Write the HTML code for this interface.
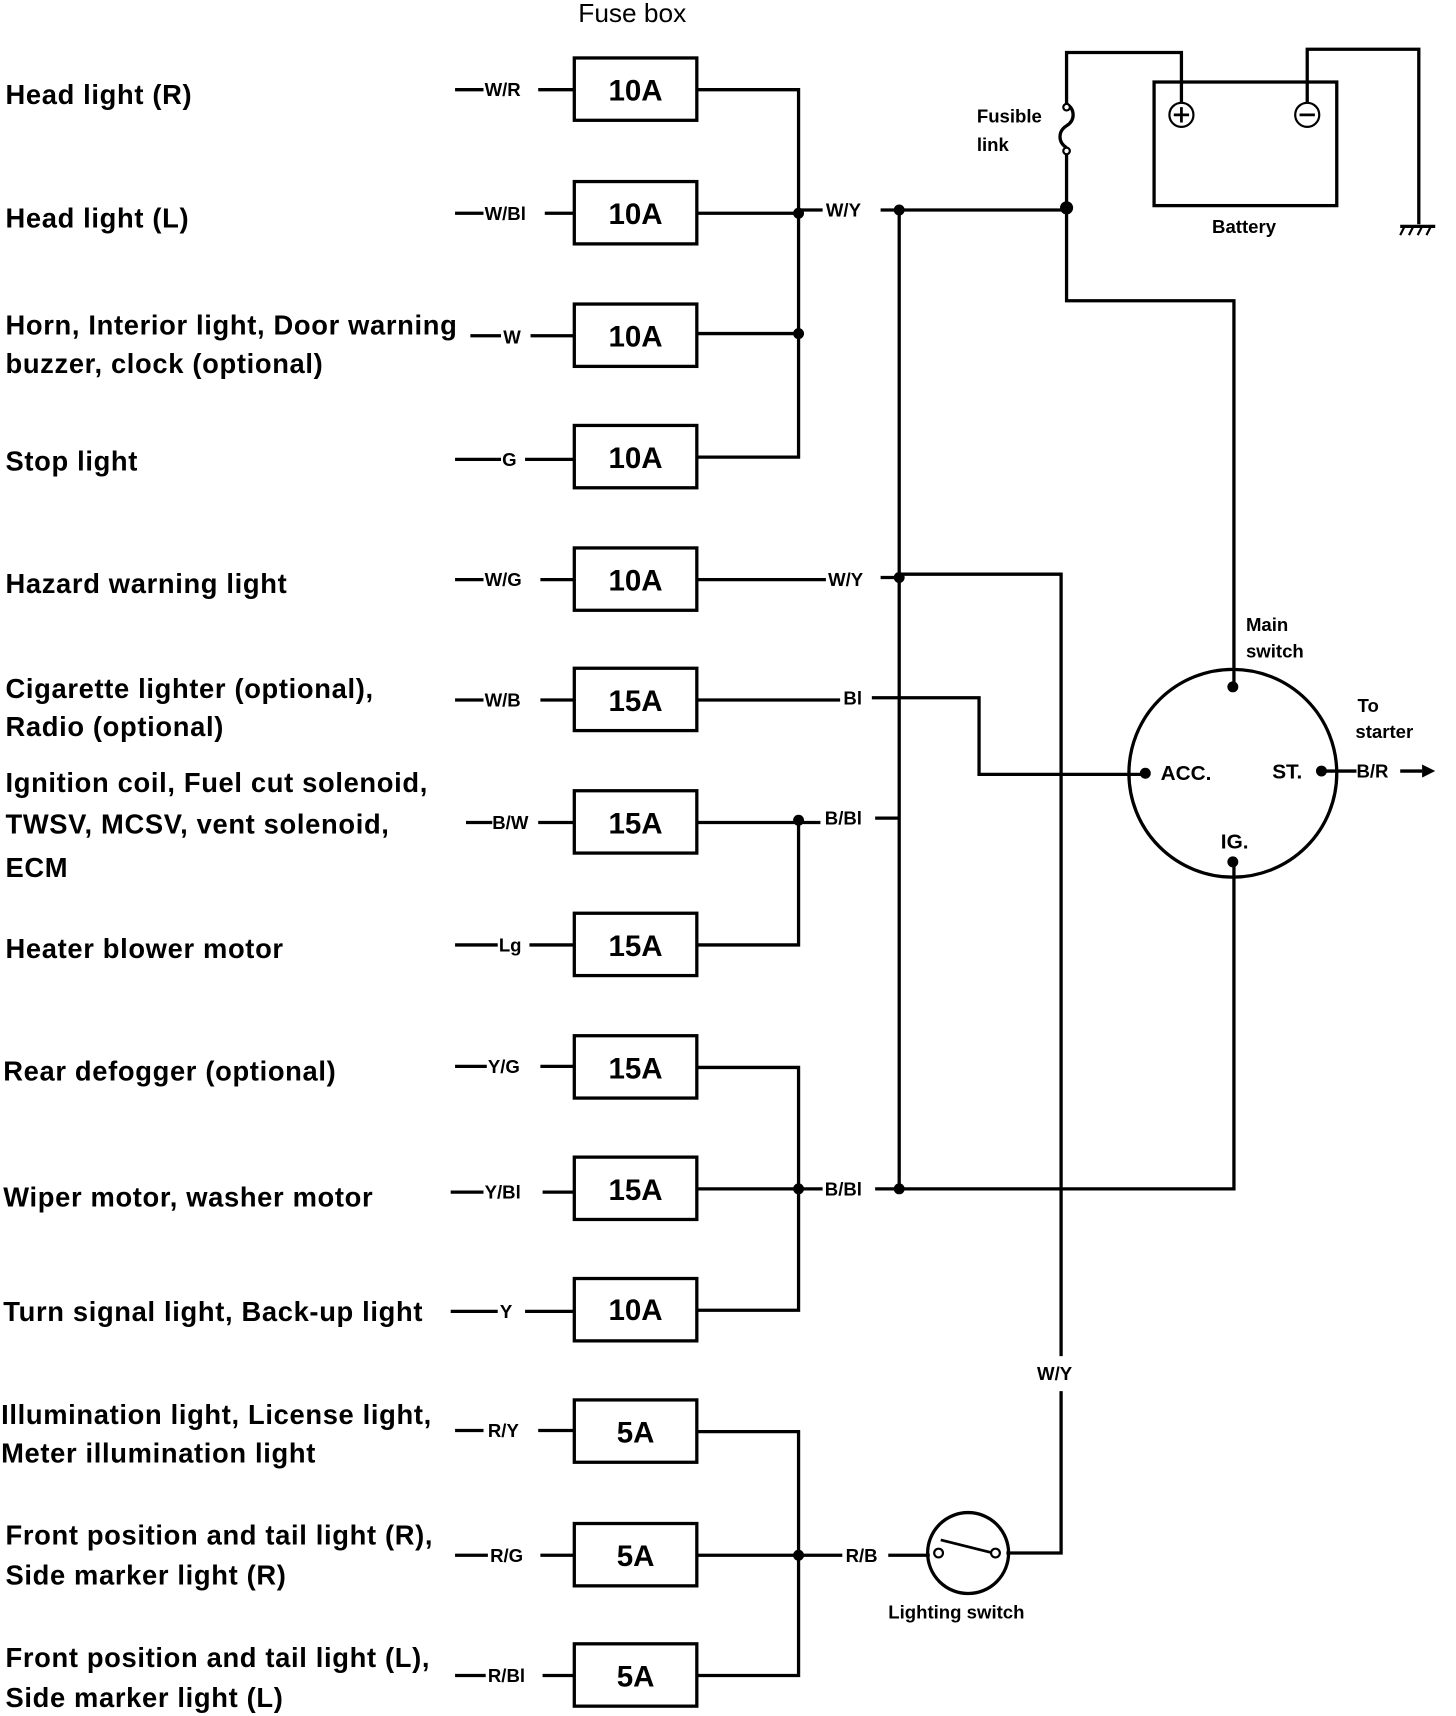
<!DOCTYPE html>
<html><head><meta charset="utf-8"><style>
html,body{margin:0;padding:0;background:#fff;}
svg{display:block;}
text{font-family:"Liberation Sans",sans-serif;font-weight:bold;fill:#000;}
.l{font-size:25px;letter-spacing:0.6px;}
.w{font-size:17px;}
.f{font-size:27px;font-weight:normal;}
.s{font-size:17px;}
</style></head><body>
<svg width="1456" height="1716" viewBox="0 0 1331 1569" preserveAspectRatio="none" xmlns="http://www.w3.org/2000/svg">
<g stroke="#000" stroke-width="3" fill="none">
<rect x="525" y="53" width="112" height="57"/>
<rect x="525" y="166" width="112" height="57"/>
<rect x="525" y="278" width="112" height="57"/>
<rect x="525" y="389" width="112" height="57"/>
<rect x="525" y="501" width="112" height="57"/>
<rect x="525" y="611" width="112" height="57"/>
<rect x="525" y="723" width="112" height="57"/>
<rect x="525" y="835" width="112" height="57"/>
<rect x="525" y="947" width="112" height="57"/>
<rect x="525" y="1058" width="112" height="57"/>
<rect x="525" y="1169" width="112" height="57"/>
<rect x="525" y="1280" width="112" height="57"/>
<rect x="525" y="1393" width="112" height="57"/>
<rect x="525" y="1503" width="112" height="57"/>
<path d="M416 82H442M492 82H525 M416 195H442M498 195H525 M430 307H458M485 307H525 M416 420H458M480 420H525 M416 530H442M494 530H525 M416 640H442M494 640H525 M426 752H450M492 752H525 M416 864H455M484 864H525 M416 975H445M494 975H525 M412 1090H442M496 1090H525 M412 1199H455M480 1199H525 M416 1308H442M492 1308H525 M416 1422H446M494 1422H525 M416 1532H444M496 1532H525"/>
<path d="M637 82H730V418H637 M637 195H730 M637 305H730 M730 192H752 M805 192H975"/>
<path d="M822 192V1087"/>
<path d="M637 530H755 M805 528H822 M822 525H970V1240 M970 1272V1420H920"/>
<path d="M975 190V140 M975 95V48H1080V95"/>
<path d="M975 95c8 5 8 15 0 20c-8 5-8 15 0 20" />
<rect x="1055" y="75" width="167" height="113"/>
<path d="M1195 95V45H1297V205"/>
<path d="M1280 207H1312"/>
<path d="M1284 207l-4 8M1292 207l-4 8M1300 207l-4 8M1308 207l-4 8" stroke-width="2"/>
<path d="M975 190V275H1128V628"/>
<circle cx="1127" cy="707" r="95"/>
<path d="M637 640H768 M797 638H895V708H1047"/>
<path d="M1208 705H1240 M1280 705H1300"/>
<path d="M1128 788V1087H822"/>
<path d="M637 752H750 M800 748H822 M730 750V864H637"/>
<path d="M637 976H730V1198H637 M637 1087H752 M800 1087H822"/>
<path d="M637 1309H730V1532H637 M637 1422H770 M812 1422H850"/>
<circle cx="885" cy="1420" r="37"/>
<path d="M860 1408L908 1420" stroke-width="2.5"/>
</g>
<g fill="#000">
<circle cx="730" cy="195" r="5"/><circle cx="730" cy="305" r="5"/>
<circle cx="822" cy="192" r="5"/><circle cx="975" cy="190" r="6"/>
<circle cx="822" cy="528" r="5"/>
<circle cx="1127" cy="628" r="5"/><circle cx="1047" cy="707" r="5"/><circle cx="1208" cy="705" r="5"/><circle cx="1127" cy="788" r="5"/>
<circle cx="730" cy="750" r="5"/><circle cx="730" cy="1087" r="5"/><circle cx="822" cy="1087" r="5"/>
<circle cx="730" cy="1422" r="5"/>
<path d="M1300 699L1312 705L1300 711Z"/>
</g>
<g fill="#fff" stroke="#000" stroke-width="2">
<circle cx="1080" cy="105" r="11"/><circle cx="1195" cy="105" r="11"/>
<circle cx="975" cy="98" r="3"/><circle cx="975" cy="138" r="3"/>
<circle cx="858" cy="1420" r="4"/><circle cx="910" cy="1420" r="4"/>
</g>
<path d="M1073 105H1087M1080 98V112M1188 105H1202" stroke="#000" stroke-width="2.5"/>
<g class="f" text-anchor="middle">
<text x="581" y="92">10A</text><text x="581" y="205">10A</text><text x="581" y="317">10A</text><text x="581" y="428">10A</text><text x="581" y="540">10A</text>
<text x="581" y="650">15A</text><text x="581" y="762">15A</text><text x="581" y="874">15A</text><text x="581" y="986">15A</text><text x="581" y="1097">15A</text>
<text x="581" y="1207">10A</text><text x="581" y="1319">5A</text><text x="581" y="1432">5A</text><text x="581" y="1542">5A</text>
</g>
<text x="578" y="20" text-anchor="middle" style="font-size:24px;font-weight:normal">Fuse box</text>
<g class="w">
<text x="443" y="88">W/R</text><text x="443" y="201">W/Bl</text><text x="460" y="314">W</text><text x="459" y="426">G</text>
<text x="443" y="536">W/G</text><text x="443" y="646">W/B</text><text x="450" y="758">B/W</text><text x="456" y="870">Lg</text>
<text x="446" y="981">Y/G</text><text x="443" y="1096">Y/Bl</text><text x="457" y="1205">Y</text><text x="446" y="1314">R/Y</text>
<text x="448" y="1428">R/G</text><text x="446" y="1538">R/Bl</text>
<text x="755" y="198">W/Y</text><text x="757" y="536">W/Y</text><text x="771" y="644">Bl</text>
<text x="754" y="754">B/Bl</text><text x="754" y="1093">B/Bl</text><text x="773" y="1428">R/B</text>
<text x="948" y="1262">W/Y</text><text x="1240" y="711">B/R</text>
</g>
<g class="s">
<text x="893" y="112">Fusible</text><text x="893" y="138">link</text>
<text x="1108" y="213">Battery</text>
<text x="1139" y="577">Main</text><text x="1139" y="601">switch</text>
<text x="1241" y="651">To</text><text x="1239" y="675">starter</text>
<text x="1061" y="713" style="font-size:19px">ACC.</text><text x="1163" y="712" style="font-size:19px">ST.</text><text x="1116" y="776" style="font-size:19px">IG.</text>
<text x="812" y="1480">Lighting switch</text>
</g>
<g class="l">
<text x="5" y="95">Head light (R)</text>
<text x="5" y="208">Head light (L)</text>
<text x="5" y="306">Horn, Interior light, Door warning</text>
<text x="5" y="341">buzzer, clock (optional)</text>
<text x="5" y="430">Stop light</text>
<text x="5" y="542">Hazard warning light</text>
<text x="5" y="638">Cigarette lighter (optional),</text>
<text x="5" y="673">Radio (optional)</text>
<text x="5" y="724">Ignition coil, Fuel cut solenoid,</text>
<text x="5" y="762">TWSV, MCSV, vent solenoid,</text>
<text x="5" y="802">ECM</text>
<text x="5" y="876">Heater blower motor</text>
<text x="3" y="988">Rear defogger (optional)</text>
<text x="3" y="1103">Wiper motor, washer motor</text>
<text x="3" y="1208">Turn signal light, Back-up light</text>
<text x="1" y="1302">Illumination light, License light,</text>
<text x="1" y="1337">Meter illumination light</text>
<text x="5" y="1412">Front position and tail light (R),</text>
<text x="5" y="1449">Side marker light (R)</text>
<text x="5" y="1524">Front position and tail light (L),</text>
<text x="5" y="1561">Side marker light (L)</text>
</g>
</svg>
</body></html>
